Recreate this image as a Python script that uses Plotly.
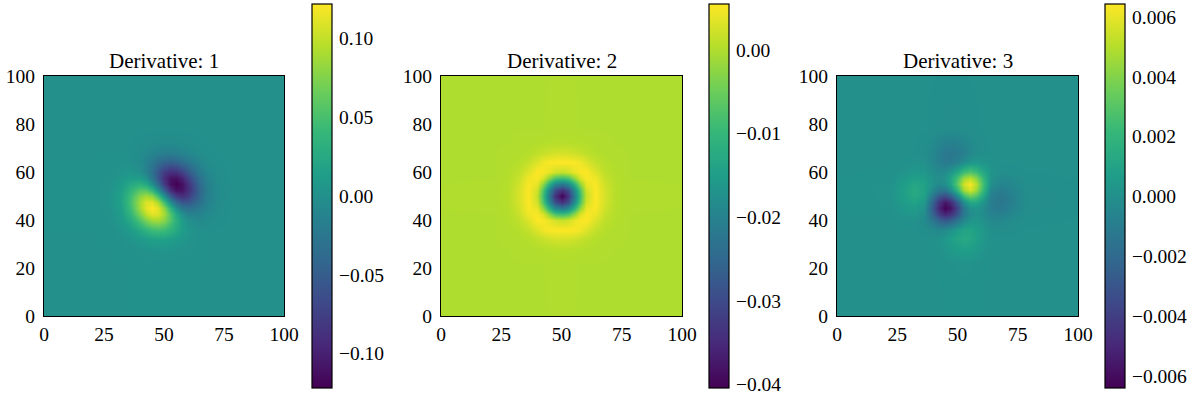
import numpy as np
import plotly.graph_objects as go

# grid positions of the values (denser around the middle)
grid = [-5, 22, 28, 32, 36, 40, 42.5, 45, 47.5, 50, 52.5, 55, 57.5, 60, 64, 68, 72, 78, 105]
x_ticks = [0, 25, 50, 75, 100]
y_ticks = [0, 20, 40, 60, 80, 100]
titles = ['Derivative: 1', 'Derivative: 2', 'Derivative: 3']

# all values below are in units of 1e-3, rows go from y=0 up to y=100
blank = [0] * 19

deriv1 = [
    blank,
    [0, 0, 0, 0, 0, .14, .2, .28, .33, .35, .3, .26, .2, .1, 0, 0, 0, 0, 0],
    [0, 0, 0, .25, .8, 2, 3, 3.9, 4.5, 4.6, 4.1, 3.2, 2.1, 1.2, .4, 0, 0, 0, 0],
    [0, 0, .25, 1.1, 3.5, 8.4, 12.1, 15.5, 17.4, 17, 14.5, 10.6, 6.8, 3.6, .8, 0, 0, 0, 0],
    [0, 0, .8, 3.5, 11.2, 25.1, 35.6, 43.8, 47.2, 44.1, 35.6, 24.2, 13.5, 5.7, 0, -.8, -.4, 0, 0],
    [0, .14, 2, 8.4, 25.1, 54.4, 74, 87.6, 89.6, 78.1, 56.8, 32.6, 12.5, 0, -5.7, -3.6, -1.2, -.1, 0],
    [0, .2, 3, 12.1, 35.6, 74, 97.9, 111.9, 109.1, 88.7, 56.9, 24.3, 0, -12.5, -13.5, -6.8, -2.1, -.2, 0],
    [0, .28, 3.9, 15.5, 43.8, 87.6, 111.9, 121.9, 110.7, 79.4, 37.9, 0, -24.3, -32.6, -24.2, -10.6, -3.2, -.26, 0],
    [0, .33, 4.5, 17.4, 47.2, 89.6, 109.1, 110.7, 88.7, 47.4, 0, -37.9, -56.9, -56.8, -35.6, -14.5, -4.1, -.3, 0],
    [0, .35, 4.6, 17, 44.1, 78.1, 88.7, 79.4, 47.4, 0, -47.4, -79.4, -88.7, -78.1, -44.1, -17, -4.6, -.35, 0],
    [0, .3, 4.1, 14.5, 35.6, 56.8, 56.9, 37.9, 0, -47.4, -88.7, -110.7, -109.1, -89.6, -47.2, -17.4, -4.5, -.33, 0],
    [0, .26, 3.2, 10.6, 24.2, 32.6, 24.3, 0, -37.9, -79.4, -110.7, -121.9, -111.9, -87.6, -43.8, -15.5, -3.9, -.28, 0],
    [0, .2, 2.1, 6.8, 13.5, 12.5, 0, -24.3, -56.9, -88.7, -109.1, -111.9, -97.9, -74, -35.6, -12.1, -3, -.2, 0],
    [0, .1, 1.2, 3.6, 5.7, 0, -12.5, -32.6, -56.8, -78.1, -89.6, -87.6, -74, -54.4, -25.1, -8.4, -2, -.14, 0],
    [0, 0, .4, .8, 0, -5.7, -13.5, -24.2, -35.6, -44.1, -47.2, -43.8, -35.6, -25.1, -11.2, -3.5, -.8, 0, 0],
    [0, 0, 0, 0, -.8, -3.6, -6.8, -10.6, -14.5, -17, -17.4, -15.5, -12.1, -8.4, -3.5, -1.1, -.25, 0, 0],
    [0, 0, 0, 0, -.4, -1.2, -2.1, -3.2, -4.1, -4.6, -4.5, -3.9, -3, -2, -.8, -.25, 0, 0, 0],
    [0, 0, 0, 0, 0, -.1, -.2, -.26, -.3, -.35, -.33, -.28, -.2, -.14, 0, 0, 0, 0, 0],
    blank,
]

deriv2 = [
    blank,
    [0, 0, 0, 0, 0, 0, 0, .02, .03, .03, .03, .02, 0, 0, 0, 0, 0, 0, 0],
    [0, 0, 0, .03, .08, .2, .3, .4, .5, .5, .5, .4, .3, .2, .08, .03, 0, 0, 0],
    [0, 0, .03, .1, .35, 1, 1.6, 2.1, 2.5, 2.6, 2.5, 2.1, 1.6, 1, .35, .1, .03, 0, 0],
    [0, 0, .08, .35, 1.4, 3.2, 4.5, 5.2, 5.4, 5.5, 5.4, 5.2, 4.5, 3.2, 1.4, .35, .08, 0, 0],
    [0, 0, .2, 1, 3.2, 5.5, 5.2, 4, 2.3, 1.5, 2.3, 4, 5.2, 5.5, 3.2, 1, .2, 0, 0],
    [0, 0, .3, 1.6, 4.5, 5.2, 3, -2.5, -7.5, -9, -7.5, -2.5, 3, 5.2, 4.5, 1.6, .3, 0, 0],
    [0, .02, .4, 2.1, 5.2, 4, -2.5, -11.5, -19, -22, -19, -11.5, -2.5, 4, 5.2, 2.1, .4, .02, 0],
    [0, .03, .5, 2.5, 5.4, 2.3, -7.5, -19, -29.5, -34, -29.5, -19, -7.5, 2.3, 5.4, 2.5, .5, .03, 0],
    [0, .03, .5, 2.6, 5.5, 1.5, -9, -22, -34, -40, -34, -22, -9, 1.5, 5.5, 2.6, .5, .03, 0],
    [0, .03, .5, 2.5, 5.4, 2.3, -7.5, -19, -29.5, -34, -29.5, -19, -7.5, 2.3, 5.4, 2.5, .5, .03, 0],
    [0, .02, .4, 2.1, 5.2, 4, -2.5, -11.5, -19, -22, -19, -11.5, -2.5, 4, 5.2, 2.1, .4, .02, 0],
    [0, 0, .3, 1.6, 4.5, 5.2, 3, -2.5, -7.5, -9, -7.5, -2.5, 3, 5.2, 4.5, 1.6, .3, 0, 0],
    [0, 0, .2, 1, 3.2, 5.5, 5.2, 4, 2.3, 1.5, 2.3, 4, 5.2, 5.5, 3.2, 1, .2, 0, 0],
    [0, 0, .08, .35, 1.4, 3.2, 4.5, 5.2, 5.4, 5.5, 5.4, 5.2, 4.5, 3.2, 1.4, .35, .08, 0, 0],
    [0, 0, .03, .1, .35, 1, 1.6, 2.1, 2.5, 2.6, 2.5, 2.1, 1.6, 1, .35, .1, .03, 0, 0],
    [0, 0, 0, .03, .08, .2, .3, .4, .5, .5, .5, .4, .3, .2, .08, .03, 0, 0, 0],
    [0, 0, 0, 0, 0, 0, 0, .02, .03, .03, .03, .02, 0, 0, 0, 0, 0, 0, 0],
    blank,
]

deriv3 = [
    blank,
    [0, 0, 0, 0, 0, 0, .02, .04, .07, .1, .12, .1, .07, .04, 0, 0, 0, 0, 0],
    [0, 0, 0, 0, 0, .05, .13, .28, .5, .7, .8, .75, .5, .28, .06, 0, 0, 0, 0],
    [0, 0, 0, 0, 0, .03, .15, .4, .8, 1.15, 1.3, 1.2, .85, .45, .12, .02, 0, 0, 0],
    [0, 0, 0, .01, -.06, -.25, -.4, -.25, .15, .7, 1.05, 1.1, .8, .42, -.05, -.1, -.05, 0, 0],
    [0, .01, .06, .06, -.26, -1.38, -2.36, -2.87, -2.45, -1.39, -.39, .2, .3, .1, -.35, -.4, -.2, -.03, 0],
    [0, .03, .25, .35, -.1, -2.36, -4.09, -5.05, -4.5, -2.82, -1.14, -.19, .06, -.1, -.7, -.8, -.45, -.06, 0],
    [0, .06, .45, .6, .1, -2.87, -5.06, -6.3, -5.59, -3.4, -1.2, .03, .3, -.05, -.95, -1.2, -.7, -.1, 0],
    [0, .1, .65, .95, .5, -2.48, -4.53, -5.6, -4.73, -2.37, .01, 1.25, 1.22, .4, -1, -1.35, -.85, -.12, 0],
    [0, .12, .8, 1.3, .9, -1.46, -2.87, -3.43, -2.38, 0, 2.38, 3.43, 2.87, 1.46, -.9, -1.3, -.8, -.12, 0],
    [0, .12, .85, 1.35, 1, -.4, -1.22, -1.25, -.01, 2.37, 4.73, 5.6, 4.53, 2.48, -.5, -.95, -.65, -.1, 0],
    [0, .1, .7, 1.2, .95, .05, -.3, -.03, 1.2, 3.4, 5.59, 6.3, 5.06, 2.87, -.1, -.6, -.45, -.06, 0],
    [0, .06, .45, .8, .7, .1, -.06, .19, 1.14, 2.82, 4.5, 5.05, 4.09, 2.36, .1, -.35, -.25, -.03, 0],
    [0, .03, .2, .4, .35, -.1, -.3, -.2, .39, 1.39, 2.45, 2.87, 2.36, 1.38, .26, -.06, -.06, -.01, 0],
    [0, 0, .05, .1, .05, -.42, -.8, -1.1, -1.05, -.7, -.15, .25, .4, .25, .06, -.01, 0, 0, 0],
    [0, 0, 0, -.02, -.12, -.45, -.85, -1.2, -1.3, -1.15, -.8, -.4, -.15, -.03, 0, 0, 0, 0, 0],
    [0, 0, 0, 0, -.06, -.28, -.5, -.75, -.8, -.7, -.5, -.28, -.13, -.05, 0, 0, 0, 0, 0],
    [0, 0, 0, 0, 0, -.04, -.07, -.1, -.12, -.1, -.07, -.04, -.02, 0, 0, 0, 0, 0, 0],
    blank,
]

panels = [deriv1, deriv2, deriv3]
z_ranges = [(-0.122, 0.122), (-0.0404, 0.0055), (-0.0064, 0.00643)]
cbar_ticks = [
    [-0.10, -0.05, 0.0, 0.05, 0.10],
    [-0.04, -0.03, -0.02, -0.01, 0.0],
    [-0.006, -0.004, -0.002, 0.0, 0.002, 0.004, 0.006],
]
cbar_formats = ['.2f', '.2f', '.3f']

# pixel layout of the 1200x400 page
W, H = 1200, 400
axes_left = [44, 441, 837]
axes_right = [284, 682, 1078]
cbar_left = [312, 708.5, 1105]
font = 'Liberation Serif'
clear = 'rgba(0,0,0,0)'

fig = go.Figure()
for i, z in enumerate(panels):
    name = '' if i == 0 else str(i + 1)
    fig.add_trace(go.Heatmap(
        x=grid, y=grid, z=np.array(z) * 1e-3,
        xaxis='x' + name, yaxis='y' + name,
        zmin=z_ranges[i][0], zmax=z_ranges[i][1],
        colorscale='Viridis', zsmooth='best',
        colorbar=dict(
            x=cbar_left[i] / W, xanchor='left', xpad=0,
            y=(H - 196) / H, yanchor='middle', ypad=0,
            thickness=20, thicknessmode='pixels',
            len=384, lenmode='pixels',
            outlinecolor='black', outlinewidth=1.2,
            tickmode='array', tickvals=cbar_ticks[i],
            tickformat=cbar_formats[i],
            # invisible ticks only push the labels away from the bar
            ticks='outside', ticklen=3, tickcolor=clear,
            tickfont=dict(family=font, size=19.5, color='black'),
        ),
    ))
    common = dict(showline=True, mirror=True, linecolor='black', linewidth=1.25,
                  showgrid=False, zeroline=False, range=[0, 100],
                  tickmode='array', tickfont=dict(family=font, size=19.5, color='black'))
    fig.update_layout({
        'xaxis' + name: dict(common, domain=[axes_left[i] / W, axes_right[i] / W],
                             tickvals=x_ticks, anchor='y' + name, ticks=''),
        'yaxis' + name: dict(common, domain=[(H - 316) / H, (H - 76) / H],
                             tickvals=y_ticks, anchor='x' + name,
                             ticks='outside', ticklen=4, tickcolor=clear),
    })
    fig.add_annotation(text=titles[i], xref='paper', yref='paper',
                       x=(axes_left[i] + axes_right[i]) / 2 / W, y=(H - 61) / H,
                       showarrow=False, xanchor='center', yanchor='middle',
                       font=dict(family=font, size=21, color='black'))

fig.update_layout(width=W, height=H, margin=dict(l=0, r=0, t=0, b=0, autoexpand=False),
                  paper_bgcolor='white', plot_bgcolor='white', showlegend=False)
# the page's default 8px body margin would shift everything
fig.write_html("out.html", config={'displayModeBar': False},
               post_script="document.body.style.margin = '0';")
